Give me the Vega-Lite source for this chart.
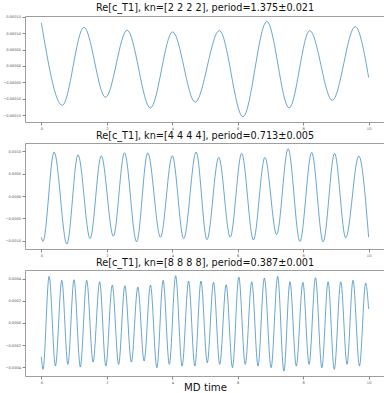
{
  "$schema": "https://vega.github.io/schema/vega-lite/v6.json",
  "padding": {"left": 2, "top": 2, "right": 0, "bottom": 0},
  "config": {
    "font": "DejaVu Sans",
    "view": {"stroke": "#9e9e9e", "strokeWidth": 1},
    "axis": {"domain": false, "grid": false, "tickColor": "#888", "tickSize": 3, "labelFontSize": 3.6, "labelColor": "#555", "labelPadding": 1.5, "labelFont": "DejaVu Sans"},
    "title": {"fontSize": 9.7, "fontWeight": "normal", "color": "#111", "offset": 2, "anchor": "middle", "font": "DejaVu Sans"}
  },
  "datasets": {
    "p1": [
      {"t": 0, "v": 0.000131}, {"t": 0.64, "v": -0.000120}, {"t": 1.30, "v": 0.000118}, {"t": 1.96, "v": -0.0000954},
      {"t": 2.62, "v": 0.000109}, {"t": 3.33, "v": -0.000128}, {"t": 4.01, "v": 0.000104}, {"t": 4.70, "v": -0.000110},
      {"t": 5.44, "v": 0.000108}, {"t": 6.16, "v": -0.000155}, {"t": 6.89, "v": 0.000136}, {"t": 7.57, "v": -0.000128},
      {"t": 8.20, "v": 0.000108}, {"t": 8.89, "v": -0.000105}, {"t": 9.59, "v": 0.000120}, {"t": 10.0, "v": -0.0000345}
    ],
    "p2": [
      {"t": 0, "v": -0.000926}, {"t": 0.05, "v": -0.00102}, {"t": 0.39, "v": 0.000987}, {"t": 0.78, "v": -0.00108},
      {"t": 1.12, "v": 0.000926}, {"t": 1.49, "v": -0.000957}, {"t": 1.83, "v": 0.000904}, {"t": 2.20, "v": -0.000904},
      {"t": 2.54, "v": 0.000971}, {"t": 2.91, "v": -0.00103}, {"t": 3.25, "v": 0.000971}, {"t": 3.64, "v": -0.000926},
      {"t": 4.00, "v": 0.000904}, {"t": 4.35, "v": -0.000957}, {"t": 4.73, "v": 0.000987}, {"t": 5.06, "v": -0.00098},
      {"t": 5.42, "v": 0.000868}, {"t": 5.77, "v": -0.000926}, {"t": 6.12, "v": 0.000957}, {"t": 6.48, "v": -0.000987},
      {"t": 6.83, "v": 0.000868}, {"t": 7.19, "v": -0.000868}, {"t": 7.54, "v": 0.00106}, {"t": 7.90, "v": -0.00102},
      {"t": 8.26, "v": 0.00098}, {"t": 8.61, "v": -0.00103}, {"t": 8.96, "v": 0.000957}, {"t": 9.30, "v": -0.00094},
      {"t": 9.70, "v": 0.000897}, {"t": 10.0, "v": -0.000926}
    ],
    "p3": [
      {"t": 0, "v": -0.000306}, {"t": 0.05, "v": -0.00042},
      {"t": 0.237, "v": 0.000421}, {"t": 0.43, "v": -0.00039},
      {"t": 0.624, "v": 0.000385}, {"t": 0.81, "v": -0.000375},
      {"t": 0.998, "v": 0.00039}, {"t": 1.19, "v": -0.000399},
      {"t": 1.385, "v": 0.000385}, {"t": 1.58, "v": -0.000354},
      {"t": 1.781, "v": 0.000372}, {"t": 1.97, "v": -0.00039},
      {"t": 2.167, "v": 0.000342}, {"t": 2.36, "v": -0.000375},
      {"t": 2.551, "v": 0.000336}, {"t": 2.75, "v": -0.000354},
      {"t": 2.947, "v": 0.000324}, {"t": 3.14, "v": -0.000345},
      {"t": 3.333, "v": 0.000342}, {"t": 3.53, "v": -0.000405},
      {"t": 3.720, "v": 0.000385}, {"t": 3.91, "v": -0.000375},
      {"t": 4.103, "v": 0.000426}, {"t": 4.30, "v": -0.00039},
      {"t": 4.499, "v": 0.000378}, {"t": 4.69, "v": -0.00039},
      {"t": 4.877, "v": 0.000378}, {"t": 5.07, "v": -0.00036},
      {"t": 5.260, "v": 0.000367}, {"t": 5.45, "v": -0.000375},
      {"t": 5.647, "v": 0.000345}, {"t": 5.84, "v": -0.000405},
      {"t": 6.033, "v": 0.000414}, {"t": 6.23, "v": -0.000375},
      {"t": 6.429, "v": 0.000372}, {"t": 6.62, "v": -0.00039},
      {"t": 6.813, "v": 0.000405}, {"t": 7.02, "v": -0.000405},
      {"t": 7.221, "v": 0.000421}, {"t": 7.41, "v": -0.000435},
      {"t": 7.595, "v": 0.000372}, {"t": 7.79, "v": -0.00039},
      {"t": 7.991, "v": 0.000367}, {"t": 8.18, "v": -0.000375},
      {"t": 8.377, "v": 0.000408}, {"t": 8.57, "v": -0.000405},
      {"t": 8.761, "v": 0.000372}, {"t": 8.95, "v": -0.00042},
      {"t": 9.148, "v": 0.000372}, {"t": 9.34, "v": -0.000375},
      {"t": 9.522, "v": 0.000385}, {"t": 9.72, "v": -0.00039},
      {"t": 9.909, "v": 0.00036}, {"t": 10.0, "v": 0.000126}
    ]
  },
  "spacing": 21,
  "bounds": "flush",
  "vconcat": [
    {
      "title": "Re[c_T1], kn=[2 2 2 2], period=1.375±0.021",
      "width": 360, "height": 106,
      "data": {"name": "p1"},
      "mark": {"type": "line", "interpolate": "monotone", "color": "#2a7fba", "strokeWidth": 0.7, "clip": true},
      "encoding": {
        "x": {"field": "t", "type": "quantitative", "scale": {"domain": [-0.5, 10.5], "nice": false, "zero": false}, "axis": {"values": [0, 2, 4, 6, 8, 10], "title": null}},
        "y": {"field": "v", "type": "quantitative", "scale": {"domain": [-0.0001707, 0.0001524], "nice": false, "zero": false}, "axis": {"values": [-0.00015, -0.0001, -0.00005, 0, 0.00005, 0.0001, 0.00015], "format": ".5f", "title": null}}
      }
    },
    {
      "title": "Re[c_T1], kn=[4 4 4 4], period=0.713±0.005",
      "width": 360, "height": 106,
      "data": {"name": "p2"},
      "mark": {"type": "line", "interpolate": "monotone", "color": "#2a7fba", "strokeWidth": 0.7, "clip": true},
      "encoding": {
        "x": {"field": "t", "type": "quantitative", "scale": {"domain": [-0.5, 10.5], "nice": false, "zero": false}, "axis": {"values": [0, 2, 4, 6, 8, 10], "title": null}},
        "y": {"field": "v", "type": "quantitative", "scale": {"domain": [-0.00119, 0.00119], "nice": false, "zero": false}, "axis": {"values": [-0.001, -0.0005, 0, 0.0005, 0.001], "format": ".4f", "title": null}}
      }
    },
    {
      "title": "Re[c_T1], kn=[8 8 8 8], period=0.387±0.001",
      "width": 360, "height": 106,
      "data": {"name": "p3"},
      "mark": {"type": "line", "interpolate": "monotone", "color": "#2a7fba", "strokeWidth": 0.7, "clip": true},
      "encoding": {
        "x": {"field": "t", "type": "quantitative", "scale": {"domain": [-0.5, 10.5], "nice": false, "zero": false}, "axis": {"values": [0, 2, 4, 6, 8, 10], "title": "MD time", "titleFontSize": 10.2, "titleFontWeight": "normal", "titleColor": "#111", "titlePadding": -2, "titleFont": "DejaVu Sans"}},
        "y": {"field": "v", "type": "quantitative", "scale": {"domain": [-0.00048, 0.000478], "nice": false, "zero": false}, "axis": {"values": [-0.0004, -0.0002, 0, 0.0002, 0.0004], "format": ".4f", "title": null}}
      }
    }
  ]
}
